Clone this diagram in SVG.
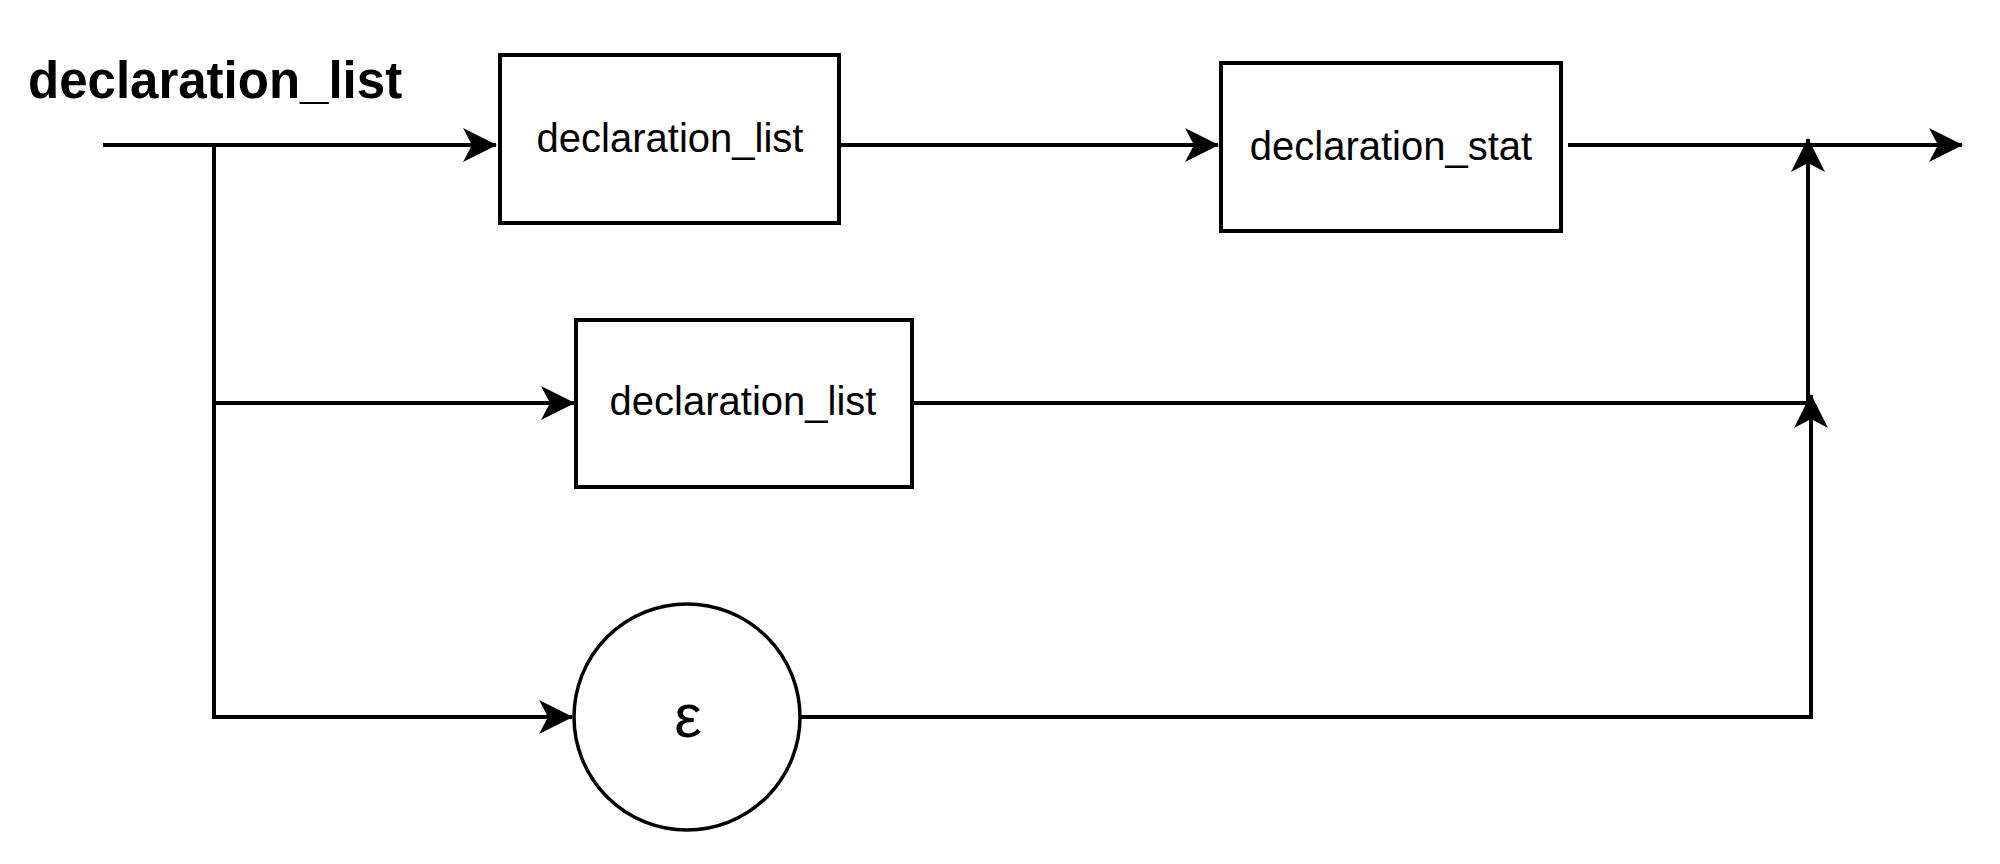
<svg xmlns="http://www.w3.org/2000/svg" width="2000" height="864" viewBox="0 0 2000 864">
  <style>
    .node { fill: #ffffff; stroke: #000000; stroke-width: 4; }
    .circ { fill: #ffffff; stroke: #000000; stroke-width: 3.5; }
    .lbl { font-family: "Liberation Sans", Arial, sans-serif; font-size: 40px; fill: #000000; text-anchor: middle; }
    .title { font-family: "Liberation Sans", Arial, sans-serif; font-size: 51px; font-weight: bold; fill: #000000; }
    .eps { font-family: "Liberation Sans", Arial, sans-serif; font-size: 62px; fill: #000000; text-anchor: middle; }
    .edge { fill: none; stroke: #000000; stroke-width: 4; stroke-linejoin: miter; }
  </style>
  <defs>
    <marker id="arrow" markerUnits="userSpaceOnUse" viewBox="0 0 34 34" refX="33" refY="17" markerWidth="34" markerHeight="34" orient="auto">
      <path d="M0,0 L34,17 L0,34 L9,17 Z" fill="#000000"/>
    </marker>
  </defs>
  <rect width="2000" height="864" fill="#ffffff"/>

  <g id="title">
    <text class="title" x="28" y="98">declaration_list</text>
  </g>

  <g id="connectors">
    <path class="edge" d="M103,145 L496,145" marker-end="url(#arrow)"/>
    <path class="edge" d="M214,145 L214,717 L572,717" marker-end="url(#arrow)"/>
    <path class="edge" d="M214,403 L574,403" marker-end="url(#arrow)"/>
    <path class="edge" d="M841,145 L1218,145" marker-end="url(#arrow)"/>
    <path class="edge" d="M1568,145 L1962,145" marker-end="url(#arrow)"/>
    <path class="edge" d="M913,403 L1808,403 L1808,139" marker-end="url(#arrow)"/>
    <path class="edge" d="M801,717 L1811,717 L1811,395" marker-end="url(#arrow)"/>
  </g>

  <g id="node-declaration_list-1">
    <rect class="node" x="500" y="55" width="339" height="168"/>
    <text class="lbl" x="670" y="152">declaration_list</text>
  </g>

  <g id="node-declaration_stat">
    <rect class="node" x="1221" y="63" width="340" height="168"/>
    <text class="lbl" x="1391" y="160">declaration_stat</text>
  </g>

  <g id="node-declaration_list-2">
    <rect class="node" x="576" y="320" width="336" height="167"/>
    <text class="lbl" x="743" y="415">declaration_list</text>
  </g>

  <g id="node-epsilon">
    <circle class="circ" cx="687" cy="717" r="113"/>
    <text class="eps" x="688" y="737">ε</text>
  </g>
</svg>
